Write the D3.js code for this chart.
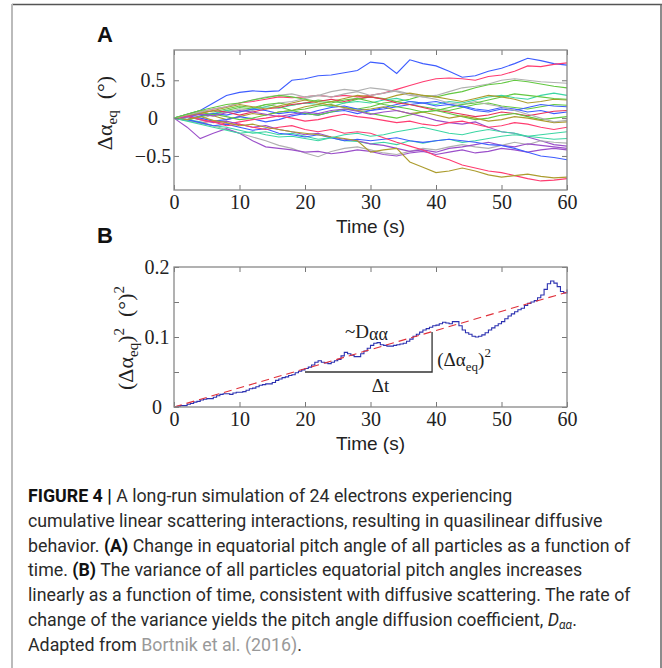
<!DOCTYPE html>
<html>
<head>
<meta charset="utf-8">
<script src="https://cdn.jsdelivr.net/npm/d3@7"></script>
<style>
  body { margin: 0; background: #fff; }
  svg { display: block; }
</style>
</head>
<body>
<svg id="fig"></svg>
<script>
// ---- data ----
var timeA = d3.range(0, 61, 2);
var tracesA = [
    [0, .05, .1, .2, .3, .34, .36, .35, .36, .5, .52, .56, .57, .6, .63, .74, .72, .59, .77, .72, .69, .62, .54, .56, .62, .66, .72, .79, .76, .72, .70],
    [0, .03, .08, .12, .15, .2, .22, .25, .28, .27, .28, .3, .28, .3, .28, .3, .33, .38, .43, .48, .52, .53, .52, .5, .55, .57, .62, .69, .68, .71, .73],
    [0, .02, -.02, .05, .08, .12, .1, .15, .2, .22, .26, .3, .28, .32, .35, .3, .33, .36, .32, .28, .3, .35, .4, .42, .45, .5, .52, .5, .48, .47, .46],
    [0, .04, .07, .05, .1, .14, .12, .18, .2, .17, .2, .24, .22, .2, .25, .28, .26, .22, .25, .3, .28, .32, .35, .4, .44, .46, .5, .48, .45, .42, .40],
    [0, -.03, .02, .06, .1, .08, .12, .15, .13, .17, .2, .18, .15, .2, .22, .2, .24, .26, .22, .2, .18, .22, .2, .24, .28, .3, .27, .25, .3, .33, .30],
    [0, .02, .05, .03, -.02, .02, .06, .04, .08, .1, .15, .18, .22, .26, .3, .28, .25, .3, .33, .3, .28, .25, .22, .26, .3, .28, .25, .2, .22, .25, .24],
    [0, .05, .1, .08, .12, .16, .14, .18, .15, .1, .12, .16, .18, .14, .12, .15, .2, .22, .18, .15, .12, .1, .14, .18, .2, .16, .14, .12, .15, .18, .17],
    [0, -.02, .03, .06, .04, .08, .12, .1, .06, .08, .05, .1, .14, .16, .12, .1, .14, .18, .22, .2, .16, .18, .15, .1, .08, .12, .1, .14, .18, .16, .15],
    [0, .03, 0, -.04, -.02, .02, -.01, -.05, -.02, .03, .06, .04, .08, .1, .06, .1, .12, .15, .18, .2, .22, .18, .16, .12, .1, .14, .12, .08, .1, .06, .08],
    [0, .02, .06, .1, .08, .04, .08, .12, .14, .18, .2, .22, .25, .22, .26, .28, .25, .2, .18, .14, .1, .08, .05, .02, .04, .08, .06, .03, .06, .09, .10],
    [0, -.02, .02, .05, .02, -.02, 0, .04, .08, .1, .06, .04, .08, .12, .1, .06, .03, 0, .04, .08, .1, .06, .02, -.02, 0, .04, .06, .02, -.02, 0, .02],
    [0, .03, .06, .1, .14, .18, .15, .12, .16, .2, .24, .2, .17, .14, .1, .12, .15, .1, .06, .08, .04, 0, .03, 0, -.04, -.02, .02, 0, -.03, -.06, -.05],
    [0, .02, .05, .03, .07, .1, .08, .05, .02, .05, .08, .06, .1, .12, .09, .05, .08, .1, .06, .02, -.03, -.06, -.08, -.05, -.12, -.18, -.2, -.25, -.3, -.35, -.37],
    [0, -.03, -.06, -.04, -.08, -.05, -.02, 0, .03, 0, -.04, -.02, .02, .05, .02, 0, -.03, -.06, -.04, -.08, -.1, -.06, -.04, -.08, -.12, -.1, -.06, -.08, -.12, -.15, -.12],
    [0, -.02, -.05, -.1, -.12, -.16, -.2, -.18, -.22, -.2, -.24, -.28, -.26, -.3, -.31, -.34, -.32, -.35, -.3, -.33, -.3, -.28, -.32, -.3, -.27, -.24, -.22, -.24, -.26, -.28, -.27],
    [0, -.03, -.07, -.1, -.15, -.2, -.25, -.3, -.36, -.4, -.46, -.51, -.44, -.4, -.38, -.42, -.46, -.48, -.44, -.4, -.42, -.38, -.35, -.38, -.4, -.36, -.32, -.35, -.3, -.32, -.33],
    [0, -.12, -.27, -.2, -.14, -.2, -.3, -.38, -.4, -.42, -.45, -.44, -.47, -.45, -.42, -.44, -.48, -.5, -.46, -.44, -.48, -.45, -.42, -.46, -.44, -.4, -.42, -.45, -.42, -.4, -.42],
    [0, .02, -.02, -.06, -.04, -.08, -.12, -.1, -.15, -.18, -.22, -.2, -.25, -.28, -.3, -.34, -.36, -.4, -.44, -.42, -.45, -.4, -.38, -.35, -.32, -.36, -.38, -.34, -.36, -.38, -.40],
    [0, -.02, -.06, -.1, -.08, -.12, -.16, -.14, -.2, -.22, -.25, -.22, -.26, -.3, -.28, -.3, -.28, -.26, -.3, -.32, -.3, -.28, -.3, -.32, -.35, -.36, -.4, -.45, -.5, -.52, -.55],
    [0, .03, -.02, -.05, -.1, -.08, -.12, -.15, -.12, -.1, -.15, -.18, -.15, -.2, -.18, -.2, -.26, -.32, -.37, -.42, -.5, -.55, -.62, -.66, -.7, -.72, -.76, -.8, -.83, -.82, -.80],
    [0, -.02, .02, -.03, -.06, -.1, -.08, -.12, -.15, -.18, -.2, -.22, -.25, -.27, -.3, -.45, -.42, -.4, -.58, -.65, -.72, -.7, -.66, -.7, -.75, -.78, -.76, -.74, -.77, -.79, -.78],
    [0, .04, .08, .12, .15, .2, .24, .28, .3, .32, .28, .3, .35, .38, .36, .4, .38, .35, .3, .28, .25, .2, .18, .22, .18, .15, .1, .05, 0, -.05, -.03],
    [0, .05, .1, .14, .18, .2, .24, .27, .3, .28, .25, .22, .2, .24, .26, .22, .18, .15, .12, .08, .1, .14, .18, .2, .24, .28, .32, .3, .28, .26, .25],
    [0, -.04, -.08, -.12, -.16, -.2, -.18, -.22, -.25, -.24, -.27, -.3, -.26, -.22, -.2, -.24, -.22, -.18, -.15, -.12, -.16, -.2, -.22, -.18, -.15, -.18, -.2, -.24, -.22, -.2, -.18]
];
var traceColors = [
    "#3d5cff", "#ff3c70", "#b0b0b0", "#62c840", "#3cd6a4", "#ac9c2e",
    "#62c840", "#3d5cff", "#3d5cff", "#e8305a", "#62c840", "#ac9c2e",
    "#9b4fca", "#ff3c70", "#3cd6a4", "#b0b0b0", "#9b4fca", "#9b4fca",
    "#3d5cff", "#ff3c70", "#ac9c2e", "#b0b0b0", "#62c840", "#3cd6a4"
];

var timeB = d3.range(0, 60.5, 0.5);
var varianceB = [
    0, .001, .002, .002, .004, .005, .007, .008, .010, .011,
    .012, .012, .014, .016, .018, .019, .019, .018, .020, .021,
    .021, .022, .024, .026, .027, .029, .031, .032, .033, .033,
    .035, .038, .040, .042, .043, .045, .046, .049, .051, .053,
    .055, .057, .060, .064, .066, .064, .063, .062, .064, .066,
    .068, .073, .078, .076, .074, .072, .072, .076, .080, .084,
    .088, .091, .092, .089, .088, .087, .087, .088, .089, .090,
    .091, .094, .097, .101, .104, .107, .110, .112, .114, .116,
    .117, .119, .121, .120, .119, .122, .122, .116, .110, .106,
    .104, .101, .100, .101, .103, .106, .110, .113, .116, .119,
    .122, .126, .130, .133, .136, .139, .141, .145, .148, .150,
    .152, .156, .160, .168, .176, .180, .177, .172, .165, .163,
    .168
];
var fitT = [0, 60];
var fitV = [0, 0.164];
var triangleT = [20, 39.4, 39.4];
var triangleV = [0.05, 0.05, 0.107];

var xTicks = [0, 10, 20, 30, 40, 50, 60];
var yTicksA = [-0.5, 0, 0.5];
var yTicksB = [0, 0.05, 0.1, 0.15, 0.2];
var yLabelsB = [0, 0.1, 0.2];

var captionLines = [
    [["FIGURE 4 | ", "b"], ["A long-run simulation of 24 electrons experiencing", ""]],
    [["cumulative linear scattering interactions, resulting in quasilinear diffusive", ""]],
    [["behavior. ", ""], ["(A)", "b"], [" Change in equatorial pitch angle of all particles as a function of", ""]],
    [["time. ", ""], ["(B)", "b"], [" The variance of all particles equatorial pitch angles increases", ""]],
    [["linearly as a function of time, consistent with diffusive scattering. The rate of", ""]],
    [["change of the variance yields the pitch angle diffusion coefficient, ", ""], ["D", "i"], ["αα", "sub"], [".", "dot"]],
    [["Adapted from ", ""], ["Bortnik et al. (2016)", "link"], [".", ""]]
];

// ---- layout ----
var W = 662, H = 668;
var svg = d3.select("#fig").attr("width", W).attr("height", H);
var serif = "'Liberation Serif', 'Times New Roman', serif";
var sans = "'Liberation Sans', Arial, sans-serif";

// figure frame
svg.append("line").attr("x1", 12).attr("x2", W).attr("y1", 4.5).attr("y2", 4.5)
    .attr("stroke", "#555").attr("stroke-width", 1.5);
svg.append("line").attr("x1", 12).attr("x2", 12).attr("y1", 4).attr("y2", H)
    .attr("stroke", "#bbb").attr("stroke-width", 2);
svg.append("line").attr("x1", 661).attr("x2", 661).attr("y1", 4).attr("y2", H)
    .attr("stroke", "#666").attr("stroke-width", 1.5);

var left = 174, right = 567;
var x = d3.scaleLinear().domain([0, 60]).range([left, right]);
var yA = d3.scaleLinear().domain([-0.95, 0.9]).range([190, 50]);
var yB = d3.scaleLinear().domain([0, 0.2]).range([407, 267]);

function frame(y, yTicks, yLabels, labelX) {
    var top = y.range()[1], bottom = y.range()[0];
    var g = svg.append("g");

    var bx = g.append("g").attr("transform", "translate(0," + bottom + ")")
        .call(d3.axisBottom(x).tickValues(xTicks).tickSize(-5).tickPadding(5));
    var tx = g.append("g").attr("transform", "translate(0," + top + ")")
        .call(d3.axisTop(x).tickValues(xTicks).tickSize(-5).tickFormat(""));
    var ly = g.append("g").attr("transform", "translate(" + left + ",0)")
        .call(d3.axisLeft(y).tickValues(yTicks).tickSize(-5).tickFormat(""));
    var ry = g.append("g").attr("transform", "translate(" + right + ",0)")
        .call(d3.axisRight(y).tickValues(yTicks).tickSize(-5).tickFormat(""));

    [bx, tx, ly, ry].forEach(function (a) {
        a.select(".domain").remove();
        a.selectAll(".tick line").attr("stroke", "#777");
    });
    bx.selectAll("text").attr("font-family", serif).attr("font-size", 20).attr("fill", "#222");

    g.selectAll(".ylab").data(yLabels).enter().append("text")
        .attr("x", labelX).attr("y", function (d) { return y(d); })
        .attr("dy", "0.34em")
        .attr("text-anchor", "middle")
        .attr("font-family", serif).attr("font-size", 20).attr("fill", "#222")
        .text(function (d) { return d < 0 ? "\u2212" + Math.abs(d) : d; });

    g.append("rect").attr("x", left).attr("y", top)
        .attr("width", right - left).attr("height", bottom - top)
        .attr("fill", "none").attr("stroke", "#888").attr("stroke-width", 1.3);

    g.append("text").attr("x", (left + right) / 2).attr("y", bottom + 43)
        .attr("text-anchor", "middle").attr("font-family", sans).attr("font-size", 19)
        .attr("fill", "#222").text("Time (s)");
}

// ---- panel A ----
var lineA = d3.line()
    .x(function (d, i) { return x(timeA[i]); })
    .y(function (d) { return yA(d); });

svg.append("g").selectAll("path").data(tracesA).enter().append("path")
    .attr("d", lineA)
    .attr("fill", "none")
    .attr("stroke", function (d, i) { return traceColors[i]; })
    .attr("stroke-width", 1.1);

frame(yA, yTicksA, yTicksA, 153);

svg.append("text").attr("x", 97).attr("y", 42).attr("font-family", sans)
    .attr("font-weight", "bold").attr("font-size", 22).attr("fill", "#111").text("A");

var labA = svg.append("text").attr("transform", "translate(112,113) rotate(-90)")
    .attr("text-anchor", "middle").attr("font-family", serif).attr("font-size", 22).attr("fill", "#222");
labA.append("tspan").text("Δα");
labA.append("tspan").attr("font-size", 15).attr("dy", 5).text("eq");
labA.append("tspan").attr("dy", -5).text("\u2002(°)");

// ---- panel B ----
var lineB = d3.line()
    .x(function (d, i) { return x(timeB[i]); })
    .y(function (d) { return yB(d); })
    .curve(d3.curveStepAfter);

svg.append("path").datum(varianceB)
    .attr("d", lineB)
    .attr("fill", "none").attr("stroke", "#2b30b0").attr("stroke-width", 1.1);

var fitLine = d3.line()
    .x(function (d, i) { return x(fitT[i]); })
    .y(function (d) { return yB(d); });
svg.append("path").datum(fitV)
    .attr("d", fitLine)
    .attr("fill", "none").attr("stroke", "#e0303a").attr("stroke-width", 1.1)
    .attr("stroke-dasharray", "8,5");

var triLine = d3.line()
    .x(function (d, i) { return x(triangleT[i]); })
    .y(function (d) { return yB(d); });
svg.append("path").datum(triangleV)
    .attr("d", triLine)
    .attr("fill", "none").attr("stroke", "#333").attr("stroke-width", 1.3);

frame(yB, yTicksB, yLabelsB, 157);

svg.append("text").attr("x", 97).attr("y", 243).attr("font-family", sans)
    .attr("font-weight", "bold").attr("font-size", 22).attr("fill", "#111").text("B");

var labB = svg.append("text").attr("transform", "translate(133,338) rotate(-90)")
    .attr("text-anchor", "middle").attr("font-family", serif).attr("font-size", 22).attr("fill", "#222");
labB.append("tspan").text("(Δα");
labB.append("tspan").attr("font-size", 15).attr("dy", 5).text("eq");
labB.append("tspan").attr("dy", -5).text(")");
labB.append("tspan").attr("font-size", 15).attr("dy", -9).text("2");
labB.append("tspan").attr("dy", 9).text("\u2002(°)");
labB.append("tspan").attr("font-size", 15).attr("dy", -9).text("2");

// annotations
var ann = svg.append("g").attr("font-family", serif).attr("fill", "#222");
var dTxt = ann.append("text").attr("x", x(26.1)).attr("y", yB(0.098)).attr("font-size", 19);
dTxt.append("tspan").text("~D");
dTxt.append("tspan").attr("font-size", 18).attr("dy", 2).text("αα");

var sTxt = ann.append("text").attr("x", x(40.2)).attr("y", yB(0.0586)).attr("font-size", 19);
sTxt.append("tspan").text("(Δα");
sTxt.append("tspan").attr("font-size", 13).attr("dy", 5).text("eq");
sTxt.append("tspan").attr("dy", -5).text(")");
sTxt.append("tspan").attr("font-size", 13).attr("dy", -9).text("2");

ann.append("text").attr("x", x(30.2)).attr("y", yB(0.021)).attr("font-size", 19).text("Δt");

// ---- caption ----
var cap = svg.append("g").attr("font-family", "Roboto, 'Liberation Sans', sans-serif")
    .attr("font-size", 17.8).attr("fill", "#2a2a2a");
captionLines.forEach(function (segs, i) {
    var t = cap.append("text").attr("x", 28).attr("y", 502 + i * 24.8);
    segs.forEach(function (s) {
        var sp = t.append("tspan").text(s[0]);
        if (s[1] === "b") sp.attr("font-weight", "bold").attr("fill", "#111");
        if (s[1] === "i") sp.attr("font-style", "italic");
        if (s[1] === "sub") sp.attr("font-style", "italic").attr("font-size", 12).attr("dy", 3);
        if (s[1] === "dot") sp.attr("dy", -3);
        if (s[1] === "link") sp.attr("fill", "#999");
    });
});
</script>
</body>
</html>
